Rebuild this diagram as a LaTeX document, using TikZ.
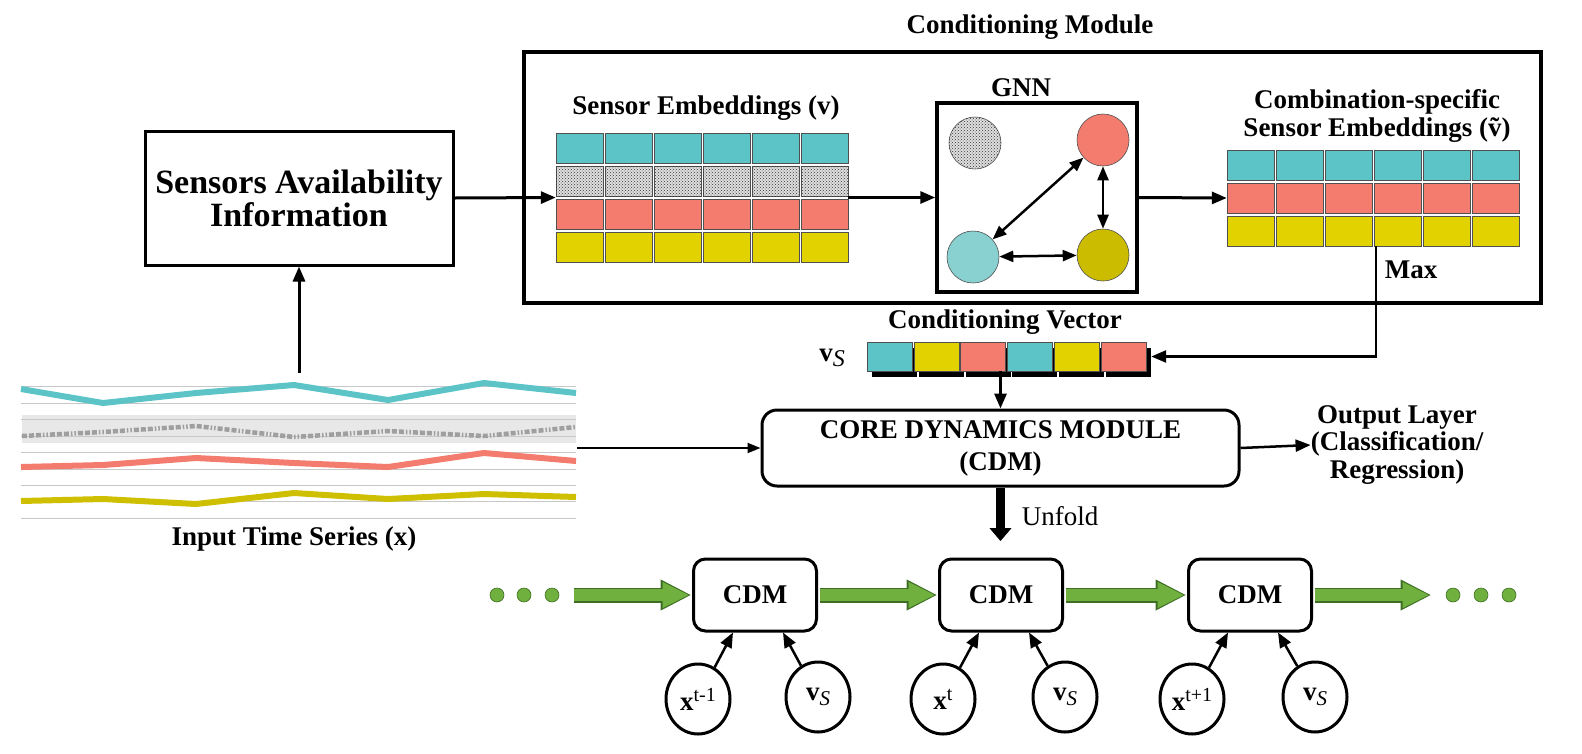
\documentclass[tikz,border=0pt]{standalone}
\usepackage{fontspec}
\setmainfont{Liberation Serif}
\usetikzlibrary{arrows.meta,patterns,positioning,shapes.geometric}

\definecolor{cyanc}{RGB}{92,196,199}
\definecolor{redc}{RGB}{243,124,111}
\definecolor{yelc}{RGB}{226,211,0}
\definecolor{cyanl}{RGB}{137,208,208}
\definecolor{olivec}{RGB}{204,188,0}
\definecolor{greenc}{RGB}{112,176,62}
\definecolor{greend}{RGB}{62,110,36}
\definecolor{cellc}{RGB}{80,80,80}
\definecolor{gridc}{RGB}{200,200,200}
\definecolor{tsyel}{RGB}{206,192,0}

\newcommand{\vS}[1][21]{\textbf{v}\raisebox{-5pt}{\fontsize{#1}{#1}\selectfont\mdseries\itshape S}}
\newcommand{\xsup}[1]{\textbf{x}\raisebox{9pt}{\fontsize{20}{20}\selectfont\mdseries #1}}

\tikzset{
  lbl/.style={font=\fontsize{27}{28}\selectfont\bfseries, align=center, inner sep=0pt},
  frame/.style={inner sep=0pt},
  blk/.style={draw, line width=3pt, inner sep=0pt, align=center},
  cell/.style={draw=cellc, line width=0.6pt},
  arr/.style={-{Triangle[length=15pt,width=12pt]}, line width=3pt},
  tarr/.style={-{Triangle[length=13pt,width=10pt]}, line width=2pt},
  darr/.style={{Triangle[length=14pt,width=11pt]}-{Triangle[length=14pt,width=11pt]}, line width=2.5pt},
  cdm/.style={draw, line width=3pt, rounded corners=12pt, minimum width=123pt, minimum height=72pt, font=\fontsize{27}{28}\selectfont\bfseries},
  inp/.style={ellipse, draw, line width=3pt, minimum width=64pt, minimum height=70pt, inner sep=0pt, font=\fontsize{27}{28}\selectfont},
  gnode/.style={circle, draw=cellc, line width=0.6pt, minimum size=52pt, inner sep=0pt},
  gdot/.style={circle, fill=greenc, draw=greend, line width=0.6pt, minimum size=14pt, inner sep=0pt},
  gout/.style={draw=greend, line width=15pt, shorten <=1.5pt, shorten >=1.5pt, -{Triangle[length=30pt,width=31pt,line width=1pt]}},
  gin/.style={draw=greenc, line width=12pt, shorten <=1.5pt, shorten >=3.5pt, -{Triangle[length=26pt,width=26pt,line width=1pt]}},
  tsline/.style={line width=6pt, line join=round},
  dots/.style={fill=gray!25, postaction={pattern=crosshatch dots, pattern color=black!80}}
}

\begin{document}
\begin{tikzpicture}[x=1pt,y=-1pt]
\useasboundingbox (0,0) rectangle (1582,753);

% conditioning module frame
\node[lbl] (modt) at (1030,27) {Conditioning Module};
\node[draw, line width=4pt, minimum width=1017pt, minimum height=251pt] (cmod) at (1032.5,177.5) {};

\node[blk, minimum width=308pt, minimum height=134pt, font=\fontsize{34}{33}\selectfont\bfseries] (sab) at (299,198) {Sensors Availability\\Information};

% sensor embeddings
\node[lbl] (embt) at (706,108) {Sensor Embeddings (v)};
\node[frame, minimum width=292pt, minimum height=129pt] (emb) at (702,197.5) {};
\foreach \i in {0,...,5}{
  \path[cell, fill=cyanc] (556+49*\i,133) rectangle ++(47,30);
  \path[cell, dots] (556+49*\i,166) rectangle ++(47,30);
  \path[cell, fill=redc] (556+49*\i,199) rectangle ++(47,30);
  \path[cell, fill=yelc] (556+49*\i,232) rectangle ++(47,30);
}

% GNN
\node[lbl] (gnnt) at (1021,88) {GNN};
\node[draw, line width=3.5pt, minimum width=200pt, minimum height=189pt] (gnn) at (1037,197.5) {};
\node[gnode, dots] (gg) at (975,143) {};
\node[gnode, fill=redc] (gr) at (1103,140) {};
\node[gnode, fill=cyanl] (gc) at (973,257) {};
\node[gnode, fill=olivec] (go) at (1103,255) {};
\draw[darr] (gr) -- (gc);
\draw[darr] (gr) -- (go);
\draw[darr] (gc) -- (go);

% combination-specific embeddings
\node[lbl] (combt) at (1377,116) {Combination-specific\\Sensor Embeddings (\~{v})};
\node[frame, minimum width=293pt, minimum height=96pt] (comb) at (1373.5,198) {};
\foreach \i in {0,...,5}{
  \path[cell, fill=cyanc] (1227+49*\i,150) rectangle ++(47,30);
  \path[cell, fill=redc] (1227+49*\i,183) rectangle ++(47,30);
  \path[cell, fill=yelc] (1227+49*\i,216) rectangle ++(47,30);
}
\node[lbl] (maxt) at (1411,270) {Max};

\draw[arr] (sab.east) -- (emb.west);
\draw[arr] (emb.east) -- (gnn.west);
\draw[arr] (gnn.east) -- (comb.west);

% conditioning vector
\node[lbl] (cvt) at (1005,322) {Conditioning Vector};
\node[lbl] (vst) at (832,358) {\vS[24]};
\node[frame, minimum width=279pt, minimum height=29pt] (cvec) at (1006.5,356.5) {};
\foreach \i/\c in {0/cyanc,1/yelc,2/redc,3/cyanc,4/yelc,5/redc}{
  \fill[black] (872+46.8*\i,348) rectangle ++(45,29);
  \path[cell, fill=\c] (867+46.8*\i,342) rectangle ++(45,29);
}
\coordinate (mx) at (1376,356.5);
\draw[arr, line width=2.5pt] (comb.south -| mx) -- (mx) -- ([xshift=5pt]cvec.east);

% input time series
\fill[gray!18] (22,415) rectangle (576,443);
\foreach \y in {386.7,403.3,419.3,436,452.7,469.3,485.3,501.7,518.3}
  \draw[gridc, line width=1pt] (21,\y) -- (576,\y);
\draw[tsline, cyanc] (21,389) -- (103,403) -- (196,393) -- (294,385) -- (388,400) -- (484,383) -- (576,393);
\draw[line width=4.5pt, gray!75, dash pattern=on 5pt off 2pt on 5pt off 2pt on 5pt off 2pt on 1.5pt off 2pt on 1.5pt off 2pt]
  (22,436) -- (103,432) -- (196,426) -- (294,437) -- (388,431) -- (484,436) -- (576,427);
\draw[tsline, redc] (21,467) -- (103,465) -- (196,458) -- (294,463) -- (388,467) -- (484,453) -- (576,461);
\draw[tsline, tsyel] (21,501) -- (103,499) -- (196,504) -- (294,493) -- (388,499) -- (484,494) -- (576,497);
\node[frame, minimum width=556pt, minimum height=147pt] (tsr) at (299,446.5) {};
\node[lbl] (tst) at (294,539) {Input Time Series (x)};
\draw[arr] (tsr.north) -- (sab.south);

% core dynamics module
\node[blk, rounded corners=15pt, minimum width=477pt, minimum height=76pt, font=\fontsize{27}{32}\selectfont\bfseries] (core) at (1000.5,448) {CORE DYNAMICS MODULE\\(CDM)};
\draw[arr] (cvec.south -| core.north) -- (core.north);
\draw[tarr] (tsr.east |- core.west) -- (core.west);
\node[lbl, font=\fontsize{27}{27.5}\selectfont\bfseries] (outt) at (1397,445) {Output Layer\\(Classification/\\Regression)};
\draw[arr, line width=2.5pt] (core.east) -- (outt.west);

\coordinate (uf) at (1000.5,541);
\draw[line width=9pt, -{Triangle[length=13pt,width=22pt,line width=1pt]}] (core.south) -- (uf);
\node[font=\fontsize{27}{28}\selectfont, inner sep=0pt] (uft) at (1060,516) {Unfold};

% unfolded chain
\node[cdm] (b1) at (755,595) {CDM};
\node[cdm] (b2) at (1001,595) {CDM};
\node[cdm] (b3) at (1250,595) {CDM};

\node[gdot] (l1) at (497,595) {};
\node[gdot] (l2) at (524,595) {};
\node[gdot] (l3) at (552,595) {};
\node[gdot] (r1) at (1453,595) {};
\node[gdot] (r2) at (1481,595) {};
\node[gdot] (r3) at (1509,595) {};
\coordinate (gs) at (572,595);
\coordinate (ge) at (1432,595);
\foreach \a/\b in {gs/b1,b1/b2,b2/b3,b3/ge}{
  \draw[gout] (\a) -- (\b);
  \draw[gin] (\a) -- (\b);
}

\node[inp] (x1) at (698,699) {\xsup{t-1}};
\node[inp] (v1) at (818,697) {\vS};
\node[inp] (x2) at (943,699) {\xsup{t}};
\node[inp] (v2) at (1065,697) {\vS};
\node[inp] (x3) at (1192,699) {\xsup{t+1}};
\node[inp] (v3) at (1315,697) {\vS};
\draw[arr, line width=2.5pt] (x1) -- ([xshift=-22pt]b1.south);
\draw[arr, line width=2.5pt] (v1) -- ([xshift=28pt]b1.south);
\draw[arr, line width=2.5pt] (x2) -- ([xshift=-22pt]b2.south);
\draw[arr, line width=2.5pt] (v2) -- ([xshift=28pt]b2.south);
\draw[arr, line width=2.5pt] (x3) -- ([xshift=-22pt]b3.south);
\draw[arr, line width=2.5pt] (v3) -- ([xshift=28pt]b3.south);
\end{tikzpicture}
\end{document}
